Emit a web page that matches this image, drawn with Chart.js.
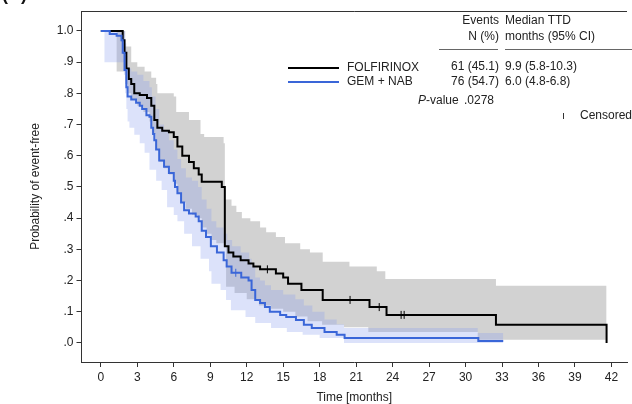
<!DOCTYPE html>
<html>
<head>
<meta charset="utf-8">
<script src="https://cdn.jsdelivr.net/npm/chart.js@4.4.1/dist/chart.umd.min.js"></script>
<style>
  html, body { margin: 0; padding: 0; background: #fff; }
</style>
</head>
<body>
<canvas id="km" width="632" height="404"></canvas>
<script>
// Kaplan-Meier steps, time in months
const folfTime = [0, 1.8, 1.95, 2.1, 2.3, 2.5, 2.75, 3.2, 3.8, 4.15, 4.4, 4.65, 5.05, 5.6, 6.0, 6.3, 6.7, 7.25, 7.65, 8.05, 8.3, 9.95, 10.2, 10.5, 10.9, 11.5, 12.15, 12.55, 13.1, 14.4, 15.0, 15.4, 16.5, 18.25, 22.1, 23.5, 32.5, 41.6];
const folfSurv = [1, .97, .93, .88, .846, .83, .80, .795, .785, .76, .715, .69, .68, .675, .66, .63, .60, .58, .56, .54, .517, .50, .31, .29, .277, .265, .255, .245, .236, .223, .21, .19, .17, .138, .115, .09, .058, 0];

const gemTime = [0, 0.73, 1.3, 1.7, 1.8, 1.95, 2.1, 2.2, 2.5, 2.9, 3.2, 3.4, 3.75, 4.0, 4.15, 4.3, 4.4, 4.55, 4.8, 5.2, 5.6, 6.0, 6.1, 6.3, 6.6, 6.85, 7.25, 7.8, 8.05, 8.3, 8.65, 9.05, 9.55, 10.1, 10.35, 10.75, 11.55, 12.15, 12.4, 12.7, 13.1, 13.5, 13.9, 14.75, 15.25, 16.05, 16.7, 17.35, 18.4, 19.4, 20.05, 31.05, 33.1];
const gemSurv = [1, .99, .985, .97, .93, .875, .82, .79, .78, .77, .76, .75, .73, .725, .69, .67, .65, .62, .585, .565, .545, .52, .50, .48, .45, .425, .415, .405, .39, .36, .34, .31, .29, .265, .245, .225, .21, .20, .17, .138, .128, .115, .10, .09, .083, .074, .058, .048, .035, .026, .016, .006, .006];

// 95% CI bands
const folfUpTime = [0, 2.0, 2.5, 3.0, 3.6, 4.15, 4.55, 4.65, 6.0, 6.2, 7.25, 8.2, 8.5, 10.1, 10.2, 10.75, 11.15, 11.6, 12.3, 13.1, 13.6, 14.4, 15.15, 16.4, 17.2, 18.25, 20.45, 22.7, 23.4, 32.5, 41.6];
const folfUpSurv = [1, .95, .90, .885, .87, .85, .83, .80, .79, .74, .715, .67, .66, .64, .46, .44, .42, .40, .39, .37, .355, .34, .32, .30, .29, .26, .245, .23, .205, .183, .183];
const folfLoTime = [0, 1.3, 2.0, 2.2, 2.5, 3.0, 3.5, 4.0, 4.2, 4.5, 4.8, 5.2, 5.6, 6.0, 6.3, 6.6, 7.0, 7.5, 8.0, 8.3, 8.7, 9.1, 9.5, 10.3, 11.0, 12.0, 13.0, 14.0, 15.0, 16.0, 17.0, 18.2, 20.0, 22.0, 31.0, 41.6];
const folfLoSurv = [1, .87, .83, .80, .78, .76, .74, .71, .67, .62, .58, .56, .54, .51, .48, .45, .43, .41, .40, .37, .35, .33, .32, .18, .16, .14, .12, .11, .10, .085, .07, .058, .05, .035, .01, .01];

const gemUpTime = [0, 2.0, 2.1, 2.2, 2.5, 3.0, 3.5, 4.0, 4.2, 4.5, 4.8, 5.2, 5.6, 6.0, 6.3, 6.6, 7.0, 7.5, 8.0, 8.3, 8.7, 9.1, 9.5, 10.1, 10.4, 10.8, 11.5, 12.2, 12.4, 12.7, 13.1, 13.5, 14.0, 15.0, 16.0, 16.7, 17.4, 18.4, 19.4, 20.0, 31.0, 33.1];
const gemUpSurv = [1, .96, .92, .88, .87, .86, .84, .82, .79, .75, .70, .68, .65, .62, .59, .56, .53, .52, .50, .46, .43, .39, .37, .35, .33, .31, .29, .27, .245, .21, .20, .185, .17, .155, .14, .12, .10, .075, .06, .048, .032, .032];
const gemLoTime = [0, 0.3, 1.9, 2.0, 2.1, 2.2, 2.35, 2.75, 3.2, 3.6, 4.0, 4.55, 5.0, 5.45, 6.0, 6.3, 6.85, 7.5, 8.2, 8.9, 9.1, 9.85, 10.3, 10.7, 11.9, 12.7, 14.0, 15.3, 16.6, 18.0, 20.0, 33.1];
const gemLoSurv = [1, .90, .86, .80, .75, .71, .69, .667, .64, .61, .555, .52, .49, .435, .41, .39, .35, .31, .27, .23, .19, .17, .138, .105, .083, .064, .048, .035, .026, .016, 0, 0];

// censored observations (months)
const folfCensored = [13.7, 20.5, 22.9, 24.7, 24.95];
const gemCensored = [11.1];

const xTicks = [0, 3, 6, 9, 12, 15, 18, 21, 24, 27, 30, 33, 36, 39, 42];
const yTicks = [0, .1, .2, .3, .4, .5, .6, .7, .8, .9, 1];

const FONT = '"Liberation Sans", Arial, sans-serif';

function pts(t, s) {
  return t.map((v, i) => ({ x: v, y: s[i] }));
}
function survAt(t, s, when) {
  let v = s[0];
  for (let i = 0; i < t.length; i++) { if (t[i] <= when) v = s[i]; }
  return v;
}

const frameAndText = {
  id: 'frameAndText',
  afterDraw(chart) {
    const ctx = chart.ctx;
    const a = chart.chartArea;
    ctx.save();
    ctx.strokeStyle = '#333';
    ctx.lineWidth = 1;
    ctx.beginPath();
    ctx.moveTo(a.left, a.top + 0.5);
    ctx.lineTo(a.right, a.top + 0.5);
    ctx.stroke();

    // panel letter, mostly cut off at the top
    ctx.fillStyle = '#111';
    ctx.font = 'bold 18px ' + FONT;
    ctx.textBaseline = 'alphabetic';
    ctx.textAlign = 'left';
    ctx.fillText('(A)', 2, 0);

    ctx.font = '12px ' + FONT;
    ctx.fillStyle = '#222';
    ctx.textBaseline = 'middle';
    ctx.textAlign = 'right';
    ctx.fillText('Events', 499, 21);
    ctx.fillText('N (%)', 499, 37);
    ctx.fillText('61 (45.1)', 499, 67);
    ctx.fillText('76 (54.7)', 499, 82);
    ctx.textAlign = 'left';
    ctx.fillText('Median TTD', 505, 21);
    ctx.fillText('months (95% CI)', 505, 37);
    ctx.fillText('9.9 (5.8-10.3)', 505, 67);
    ctx.fillText('6.0 (4.8-6.8)', 505, 82);
    ctx.fillText('FOLFIRINOX', 347, 68);
    ctx.fillText('GEM + NAB', 347, 82);

    ctx.font = 'italic 12px ' + FONT;
    ctx.fillText('P', 418, 101);
    const pw = ctx.measureText('P').width;
    ctx.font = '12px ' + FONT;
    ctx.fillText('-value', 418 + pw, 101);
    ctx.fillText('.0278', 464, 101);
    ctx.fillText('Censored', 580, 116);

    ctx.strokeStyle = '#666';
    ctx.lineWidth = 1;
    ctx.beginPath();
    ctx.moveTo(439, 49.5); ctx.lineTo(498, 49.5);
    ctx.moveTo(505, 49.5); ctx.lineTo(632, 49.5);
    ctx.stroke();

    ctx.strokeStyle = '#333';
    ctx.beginPath();
    ctx.moveTo(563.5, 113); ctx.lineTo(563.5, 119);
    ctx.stroke();

    ctx.lineWidth = 2;
    ctx.strokeStyle = '#000';
    ctx.beginPath(); ctx.moveTo(288, 68); ctx.lineTo(339, 68); ctx.stroke();
    ctx.strokeStyle = '#3a66d8';
    ctx.beginPath(); ctx.moveTo(288, 82); ctx.lineTo(339, 82); ctx.stroke();
    ctx.restore();
  }
};

const band = (data, fill, color) => ({
  data: data, stepped: 'before', fill: fill, backgroundColor: color,
  borderWidth: 0, borderColor: 'rgba(0,0,0,0)', pointRadius: 0
});

new Chart(document.getElementById('km'), {
  type: 'line',
  data: {
    datasets: [
      { label: 'GEM + NAB', data: pts(gemTime, gemSurv), stepped: 'before', borderColor: '#3a66d8', borderWidth: 2, pointRadius: 0, fill: false },
      { label: 'FOLFIRINOX', data: pts(folfTime, folfSurv), stepped: 'before', borderColor: '#000', borderWidth: 2, pointRadius: 0, fill: false },
      { data: gemCensored.map(t => ({ x: t, y: survAt(gemTime, gemSurv, t) })), showLine: false, pointStyle: 'line', rotation: 90, pointRadius: 4, borderColor: '#3a66d8', borderWidth: 1 },
      { data: folfCensored.map(t => ({ x: t, y: survAt(folfTime, folfSurv, t) })), showLine: false, pointStyle: 'line', rotation: 90, pointRadius: 4, borderColor: '#000', borderWidth: 1 },
      band(pts(gemUpTime, gemUpSurv), '+1', 'rgba(138,158,238,0.3)'),
      band(pts(gemLoTime, gemLoSurv), false, 'rgba(0,0,0,0)'),
      band(pts(folfUpTime, folfUpSurv), '+1', '#d2d2d2'),
      band(pts(folfLoTime, folfLoSurv), false, 'rgba(0,0,0,0)')
    ]
  },
  options: {
    responsive: false,
    animation: false,
    layout: { padding: { top: 11, right: 0, bottom: 0, left: 0 } },
    plugins: {
      legend: { display: false },
      tooltip: { enabled: false },
      filler: { drawTime: 'beforeDatasetsDraw' }
    },
    scales: {
      x: {
        type: 'linear', min: -1.59, max: 43.28,
        afterBuildTicks: s => { s.ticks = xTicks.map(v => ({ value: v })); },
        afterFit: s => { s.height = 42; },
        grid: { drawOnChartArea: false, drawTicks: true, tickLength: 5, color: '#333' },
        border: { display: true, color: '#333', width: 1 },
        ticks: { color: '#222', font: { family: FONT, size: 12 }, padding: 3, maxRotation: 0, autoSkip: false },
        title: { display: true, text: 'Time [months]', color: '#222', font: { family: FONT, size: 12 }, padding: { top: 0, bottom: -1 } }
      },
      y: {
        type: 'linear', min: -0.061, max: 1.064,
        afterBuildTicks: s => { s.ticks = yTicks.map(v => ({ value: v })); },
        afterFit: s => { s.width = 81.5; },
        grid: { drawOnChartArea: false, drawTicks: true, tickLength: 5, color: '#333' },
        border: { display: true, color: '#333', width: 1 },
        ticks: {
          color: '#222', font: { family: FONT, size: 12 }, padding: 3,
          callback: v => (v >= 0.999 ? '1.0' : '.' + Math.round(v * 10))
        },
        title: { display: true, text: 'Probability of event-free', color: '#222', font: { family: FONT, size: 12 }, padding: { top: 28, bottom: 0 } }
      }
    }
  },
  plugins: [frameAndText]
});
</script>
</body>
</html>
